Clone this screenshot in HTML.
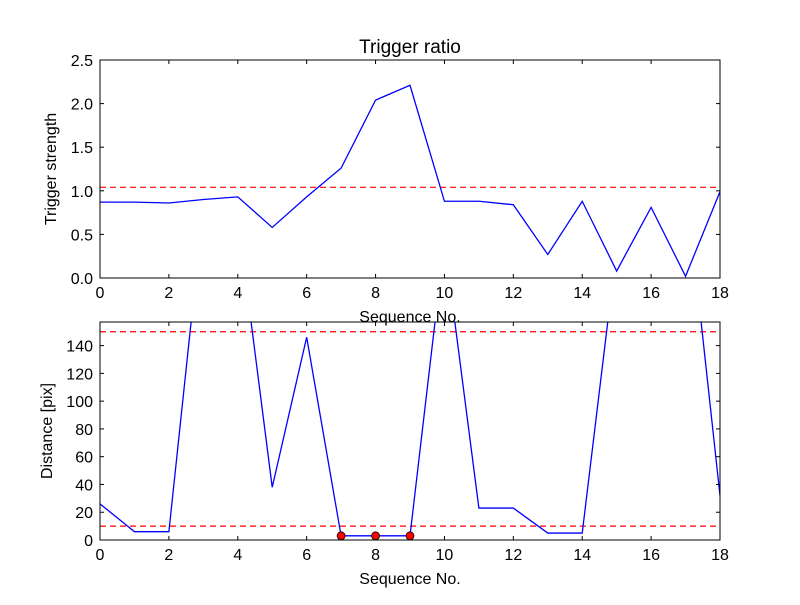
<!DOCTYPE html>
<html><head><meta charset="utf-8"><style>
body{margin:0;background:#fff;font-family:"Liberation Sans",sans-serif}
</style></head><body>
<svg id="c" width="800" height="600" viewBox="0 0 800 600" font-family="Liberation Sans, sans-serif"></svg>
<script>
const xs=[0,1,2,3,4,5,6,7,8,9,10,11,12,13,14,15,16,17,18];
const strength=[0.87,0.87,0.86,0.9,0.93,0.58,0.93,1.26,2.04,2.21,0.88,0.88,0.84,0.27,0.88,0.08,0.81,0.02,0.99];
const strengthThreshold=[1.04];
const distance=[26,6,6,240,232,38,146,3,3,3,215,23,23,5,5,210,260,260,32];
const distanceThresholds=[150,10];
const markedIdx=[7,8,9];
const xTicks=[0,2,4,6,8,10,12,14,16,18];
const yTicksTop=[0,0.5,1.0,1.5,2.0,2.5];
const yTicksBot=[0,20,40,60,80,100,120,140];
const svg=document.getElementById('c');const NS='http://www.w3.org/2000/svg';
function el(t,a,p){const e=document.createElementNS(NS,t);for(const k in a)e.setAttribute(k,a[k]);(p||svg).appendChild(e);return e;}
function panel(name,top,bot,ymax,ticks,fmt,ylabel){
 const L=100,R=720;const X=v=>L+(v-0)/18*(R-L);const Y=v=>bot-v/ymax*(bot-top);
 const g=el('g',{});
 const cp='clip-'+name;const d=el('defs',{},g);const c=el('clipPath',{id:cp},d);el('rect',{x:L,y:top,width:R-L,height:bot-top},c);
 return {g,X,Y,L,R,top,bot,cp,ticks,fmt,ylabel};
}
function axes(p){
 const {g,X,Y,L,R,top,bot}=p;
 const fr=el('rect',{x:L,y:top,width:R-L,height:bot-top,fill:'none',stroke:'#000','stroke-width':1},g);
 
 xTicks.forEach(t=>{const x=X(t);el('line',{x1:x,x2:x,y1:bot,y2:bot-4,stroke:'#000'},g);el('line',{x1:x,x2:x,y1:top,y2:top+4,stroke:'#000'},g);
  const tx=el('text',{x:x,y:bot+20,'text-anchor':'middle','font-size':16},g);tx.textContent=t;});
 p.ticks.forEach(t=>{const y=Y(t);el('line',{x1:L,x2:L+4,y1:y,y2:y,stroke:'#000'},g);el('line',{x1:R,x2:R-4,y1:y,y2:y,stroke:'#000'},g);
  const tx=el('text',{x:L-7,y:y+6,'text-anchor':'end','font-size':16},g);tx.textContent=p.fmt(t);});
 const xl=el('text',{x:(L+R)/2,y:bot+44,'text-anchor':'middle','font-size':16},g);xl.textContent='Sequence No.';
 const yl=el('text',{x:0,y:0,'text-anchor':'middle','font-size':16,transform:`translate(${p.ylab},${(top+bot)/2}) rotate(-90)`},g);yl.textContent=p.ylabel;
}
function series(p,vals,th){
 const {g,X,Y,L,R}=p;
 const cg=el('g',{'clip-path':`url(#${p.cp})`},g);
 th.forEach(v=>{const l=el('line',{x1:L,x2:R,y1:Y(v),y2:Y(v),stroke:'#f00','stroke-dasharray':'6,4','stroke-width':1.2},cg);});
 const pl=el('polyline',{points:vals.map((v,i)=>X(xs[i])+','+Y(v)).join(' '),fill:'none',stroke:'#00f','stroke-width':1.3},cg);
 
 return cg;
}
const p1=panel('top-panel',60,278,2.5,yTicksTop,t=>t.toFixed(1),'Trigger strength');p1.ylab=56;
series(p1,strength,strengthThreshold);axes(p1);
const tt=el('text',{x:410,y:53,'text-anchor':'middle','font-size':19});tt.textContent='Trigger ratio';
const p2=panel('bottom-panel',322,540,157,yTicksBot,t=>String(t),'Distance [pix]');p2.ylab=52;
series(p2,distance,distanceThresholds);
markedIdx.forEach(i=>{const c=el('circle',{cx:p2.X(xs[i]),cy:p2.Y(distance[i]),r:4,fill:'#f00',stroke:'#000','stroke-width':0.8});});
axes(p2);
</script>
</body></html>
